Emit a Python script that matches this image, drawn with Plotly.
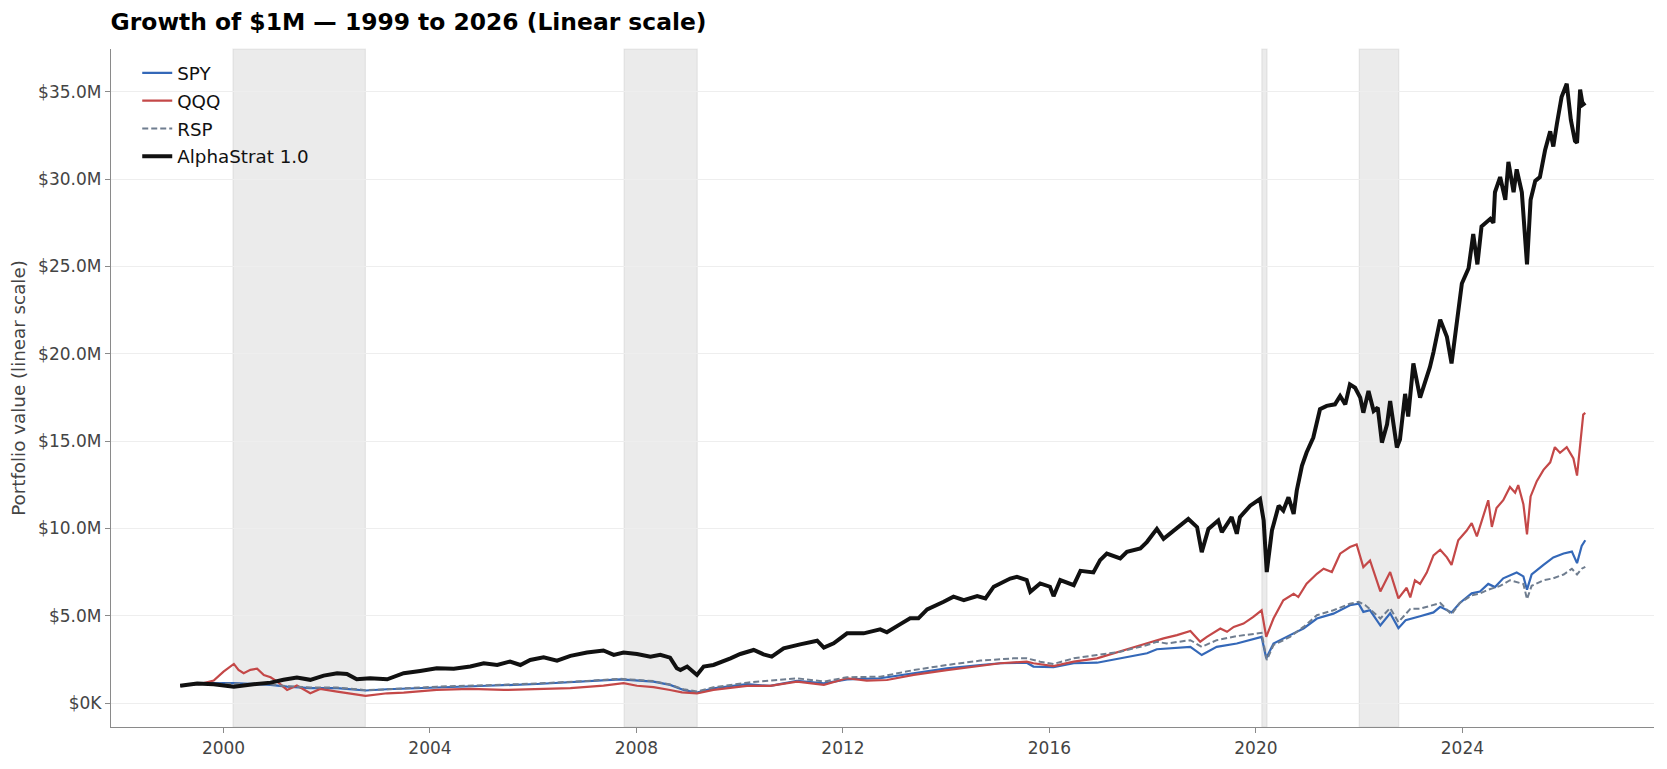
import pandas as pd
import plotly.graph_objects as go

# ---------------- data (values in $ millions, time in decimal years) ----------------
spy_t = [1999.16, 1999.62, 2000.20, 2000.58, 2000.91, 2001.23, 2001.68, 2002.20, 2002.75, 2003.17,
         2004.13, 2005.10, 2006.07, 2007.04, 2007.69, 2008.33, 2008.65, 2008.91, 2009.17, 2009.49,
         2010.14, 2010.59, 2011.11, 2011.63, 2012.08, 2012.72, 2013.37, 2014.01, 2014.66, 2015.05,
         2015.56, 2015.69, 2016.08, 2016.47, 2016.92, 2017.37, 2017.89, 2018.08, 2018.27, 2018.73,
         2018.95, 2019.24, 2019.63, 2019.89, 2020.11, 2020.20, 2020.34, 2020.66, 2020.92, 2021.18,
         2021.50, 2021.82, 2021.99, 2022.08, 2022.21, 2022.41, 2022.60, 2022.76, 2022.90, 2023.18,
         2023.44, 2023.57, 2023.79, 2023.95, 2024.18, 2024.34, 2024.50, 2024.63, 2024.79, 2025.05,
         2025.18, 2025.25, 2025.34, 2025.57, 2025.76, 2025.96, 2026.12, 2026.22, 2026.31, 2026.38]
spy_v = [1.00, 1.15, 1.15, 1.10, 1.05, 0.95, 0.86, 0.86, 0.73, 0.80,
         0.92, 1.00, 1.10, 1.24, 1.37, 1.24, 1.05, 0.76, 0.61, 0.86,
         1.09, 0.99, 1.28, 1.14, 1.37, 1.43, 1.71, 2.00, 2.19, 2.29,
         2.32, 2.10, 2.06, 2.29, 2.32, 2.57, 2.86, 3.09, 3.14, 3.23,
         2.76, 3.23, 3.42, 3.61, 3.80, 2.57, 3.42, 3.90, 4.28, 4.85,
         5.13, 5.61, 5.70, 5.23, 5.32, 4.45, 5.15, 4.30, 4.75, 4.98,
         5.20, 5.52, 5.20, 5.74, 6.29, 6.39, 6.83, 6.65, 7.15, 7.48,
         7.26, 6.50, 7.37, 7.92, 8.35, 8.57, 8.68, 8.02, 9.00, 9.33]

qqq_t = [1999.16, 1999.62, 1999.81, 2000.00, 2000.20, 2000.29, 2000.39, 2000.52, 2000.65, 2000.78,
         2000.91, 2001.04, 2001.23, 2001.42, 2001.68, 2001.87, 2002.20, 2002.52, 2002.75, 2003.17,
         2003.49, 2004.13, 2004.78, 2005.43, 2006.07, 2006.72, 2007.36, 2007.75, 2008.01, 2008.33,
         2008.65, 2008.88, 2009.17, 2009.49, 2010.14, 2010.59, 2011.11, 2011.63, 2012.08, 2012.46,
         2012.85, 2013.37, 2014.01, 2014.66, 2015.05, 2015.56, 2015.69, 2016.08, 2016.47, 2016.92,
         2017.37, 2017.89, 2018.21, 2018.47, 2018.73, 2018.92, 2019.05, 2019.31, 2019.44, 2019.57,
         2019.76, 2019.95, 2020.11, 2020.20, 2020.34, 2020.53, 2020.73, 2020.82, 2020.98, 2021.18,
         2021.31, 2021.47, 2021.63, 2021.82, 2021.95, 2022.08, 2022.21, 2022.41, 2022.60, 2022.76,
         2022.92, 2022.99, 2023.08, 2023.18, 2023.31, 2023.44, 2023.57, 2023.70, 2023.79, 2023.92,
         2024.08, 2024.18, 2024.28, 2024.41, 2024.50, 2024.57, 2024.66, 2024.79, 2024.92, 2025.02,
         2025.08, 2025.18, 2025.25, 2025.32, 2025.44, 2025.57, 2025.70, 2025.79, 2025.89, 2026.02,
         2026.15, 2026.22, 2026.28, 2026.34, 2026.38]
qqq_v = [1.00, 1.15, 1.30, 1.81, 2.25, 1.91, 1.72, 1.91, 1.98, 1.62,
         1.49, 1.24, 0.76, 1.01, 0.57, 0.82, 0.67, 0.52, 0.42, 0.57,
         0.61, 0.76, 0.82, 0.76, 0.82, 0.86, 1.01, 1.15, 1.00, 0.92,
         0.76, 0.62, 0.57, 0.76, 0.99, 0.99, 1.24, 1.05, 1.43, 1.30,
         1.33, 1.62, 1.90, 2.13, 2.29, 2.38, 2.29, 2.13, 2.38, 2.57,
         2.95, 3.43, 3.71, 3.90, 4.14, 3.52, 3.80, 4.28, 4.09, 4.37,
         4.56, 4.94, 5.32, 3.80, 4.85, 5.89, 6.27, 6.08, 6.84, 7.41,
         7.70, 7.51, 8.56, 8.94, 9.09, 7.79, 8.17, 6.40, 7.51, 6.00,
         6.61, 6.06, 7.04, 6.83, 7.48, 8.46, 8.79, 8.35, 7.92, 9.33,
         9.87, 10.31, 9.55, 10.75, 11.62, 10.09, 11.18, 11.62, 12.38, 12.05,
         12.49, 11.40, 9.66, 11.84, 12.71, 13.36, 13.79, 14.66, 14.34, 14.66,
         14.01, 13.03, 14.88, 16.52, 16.62]

rsp_t = [1999.16, 1999.62, 2000.20, 2000.58, 2000.91, 2001.23, 2001.68, 2002.20, 2002.75, 2003.17,
         2004.13, 2005.10, 2006.07, 2007.04, 2007.69, 2008.33, 2008.65, 2008.91, 2009.17, 2009.49,
         2010.14, 2011.11, 2011.63, 2012.08, 2012.72, 2013.37, 2014.01, 2014.66, 2015.30, 2015.56,
         2015.82, 2016.08, 2016.47, 2016.92, 2017.37, 2017.89, 2018.08, 2018.27, 2018.73, 2018.95,
         2019.24, 2019.63, 2020.11, 2020.21, 2020.34, 2020.66, 2020.92, 2021.18, 2021.50, 2021.82,
         2021.99, 2022.12, 2022.41, 2022.60, 2022.76, 2022.90, 2022.99, 2023.18, 2023.44, 2023.57,
         2023.79, 2023.95, 2024.18, 2024.34, 2024.50, 2024.73, 2024.92, 2025.18, 2025.25, 2025.34,
         2025.57, 2025.76, 2025.96, 2026.12, 2026.22, 2026.31, 2026.38]
rsp_v = [1.00, 1.12, 1.12, 1.10, 1.07, 0.98, 0.90, 0.90, 0.75, 0.80,
         0.95, 1.03, 1.13, 1.28, 1.40, 1.27, 1.07, 0.80, 0.67, 0.91,
         1.18, 1.43, 1.24, 1.49, 1.52, 1.90, 2.19, 2.44, 2.57, 2.57,
         2.38, 2.25, 2.57, 2.76, 2.95, 3.33, 3.52, 3.42, 3.61, 3.23,
         3.61, 3.84, 4.03, 2.47, 3.33, 3.80, 4.37, 5.04, 5.32, 5.70,
         5.80, 5.61, 4.85, 5.45, 4.65, 5.10, 5.40, 5.41, 5.63, 5.74,
         5.09, 5.74, 6.17, 6.28, 6.50, 6.72, 7.04, 6.83, 5.96, 6.72,
         7.04, 7.15, 7.37, 7.70, 7.37, 7.70, 7.81]

alpha_t = [1999.16, 1999.49, 1999.81, 2000.20, 2000.58, 2000.91, 2001.16, 2001.42, 2001.68, 2001.94,
           2002.20, 2002.39, 2002.58, 2002.84, 2003.17, 2003.49, 2003.81, 2004.13, 2004.46, 2004.78,
           2005.04, 2005.30, 2005.55, 2005.75, 2005.94, 2006.20, 2006.46, 2006.72, 2007.04, 2007.36,
           2007.56, 2007.75, 2008.01, 2008.27, 2008.46, 2008.65, 2008.78, 2008.85, 2008.98, 2009.17,
           2009.30, 2009.49, 2009.82, 2010.01, 2010.27, 2010.46, 2010.62, 2010.85, 2011.17, 2011.50,
           2011.63, 2011.82, 2012.08, 2012.40, 2012.72, 2012.85, 2013.11, 2013.30, 2013.46, 2013.63,
           2013.95, 2014.14, 2014.34, 2014.60, 2014.76, 2014.92, 2015.24, 2015.37, 2015.56, 2015.63,
           2015.82, 2016.01, 2016.08, 2016.21, 2016.47, 2016.60, 2016.85, 2016.98, 2017.11, 2017.37,
           2017.50, 2017.76, 2017.89, 2018.08, 2018.21, 2018.40, 2018.69, 2018.86, 2018.95, 2019.08,
           2019.27, 2019.34, 2019.53, 2019.63, 2019.69, 2019.89, 2020.08, 2020.15, 2020.21, 2020.31,
           2020.44, 2020.53, 2020.63, 2020.73, 2020.79, 2020.89, 2020.98, 2021.11, 2021.24, 2021.37,
           2021.53, 2021.63, 2021.73, 2021.82, 2021.92, 2022.02, 2022.08, 2022.18, 2022.28, 2022.36,
           2022.44, 2022.54, 2022.60, 2022.73, 2022.79, 2022.89, 2022.95, 2023.05, 2023.18, 2023.37,
           2023.44, 2023.57, 2023.70, 2023.79, 2023.92, 2023.99, 2024.12, 2024.21, 2024.29, 2024.37,
           2024.54, 2024.60, 2024.63, 2024.73, 2024.83, 2024.89, 2024.99, 2025.05, 2025.15, 2025.25,
           2025.32, 2025.41, 2025.50, 2025.60, 2025.70, 2025.76, 2025.83, 2025.92, 2026.02, 2026.10,
           2026.18, 2026.22, 2026.28, 2026.33, 2026.38]
alpha_v = [1.00, 1.13, 1.09, 0.95, 1.09, 1.18, 1.34, 1.47, 1.34, 1.58,
           1.72, 1.68, 1.37, 1.43, 1.37, 1.72, 1.85, 2.00, 1.97, 2.10,
           2.29, 2.19, 2.39, 2.19, 2.48, 2.63, 2.44, 2.71, 2.90, 3.02,
           2.77, 2.90, 2.82, 2.67, 2.77, 2.61, 2.00, 1.90, 2.10, 1.62,
           2.10, 2.19, 2.57, 2.82, 3.05, 2.80, 2.67, 3.14, 3.37, 3.58,
           3.18, 3.43, 4.00, 4.00, 4.23, 4.06, 4.53, 4.86, 4.86, 5.37,
           5.81, 6.10, 5.90, 6.13, 6.00, 6.67, 7.14, 7.24, 7.05, 6.38,
           6.86, 6.67, 6.13, 7.05, 6.76, 7.58, 7.49, 8.19, 8.57, 8.29,
           8.67, 8.86, 9.24, 9.98, 9.41, 9.89, 10.55, 10.08, 8.65, 9.98,
           10.46, 9.79, 10.65, 9.70, 10.65, 11.31, 11.69, 10.46, 7.51, 9.89,
           11.31, 11.03, 11.79, 10.84, 12.17, 13.59, 14.35, 15.21, 16.83, 17.02,
           17.11, 17.59, 17.11, 18.25, 18.06, 17.49, 16.63, 17.87, 16.73, 16.92,
           14.92, 15.97, 17.30, 14.64, 15.10, 17.71, 16.41, 19.45, 17.50, 19.24,
           20.10, 21.96, 20.98, 19.45, 22.29, 24.03, 24.90, 26.86, 25.12, 27.29,
           27.73, 27.50, 29.25, 30.12, 28.82, 30.99, 29.25, 30.56, 29.25, 25.12,
           28.82, 29.90, 30.12, 31.65, 32.74, 31.87, 33.17, 34.70, 35.46, 33.39,
           32.19, 32.08, 35.13, 34.26, 34.37]

series_names = ["SPY", "QQQ", "RSP", "AlphaStrat 1.0"]

# shaded market-stress periods
shade_start = ["2000-03-08", "2007-10-05", "2020-02-12", "2022-01-01"]
shade_end = ["2002-10-01", "2009-03-06", "2020-03-20", "2022-10-08"]

y_tick_vals = [0, 5, 10, 15, 20, 25, 30, 35]
y_tick_text = ["$0K", "$5.0M", "$10.0M", "$15.0M", "$20.0M", "$25.0M", "$30.0M", "$35.0M"]
x_tick_years = [2000, 2004, 2008, 2012, 2016, 2020, 2024]


def dec_to_date(y):
    year = int(y)
    frac = y - year
    start = pd.Timestamp(year=year, month=1, day=1)
    n = (pd.Timestamp(year=year + 1, month=1, day=1) - start).days
    return start + pd.Timedelta(days=frac * n)


def dates(ts):
    return [dec_to_date(t) for t in ts]


FONT = "DejaVu Sans"
fig = go.Figure()

fig.add_trace(go.Scatter(x=dates(spy_t), y=spy_v, mode="lines", name=series_names[0],
                         legendgroup="g0",
                         line=dict(color="#3468b8", width=2.2)))
fig.add_trace(go.Scatter(x=dates(qqq_t), y=qqq_v, mode="lines", name=series_names[1],
                         legendgroup="g1",
                         line=dict(color="#c44848", width=2.2)))
fig.add_trace(go.Scatter(x=dates(rsp_t), y=rsp_v, mode="lines", name=series_names[2],
                         legendgroup="g2",
                         line=dict(color="#6f7d8f", width=2.0, dash="6px,3px")))
fig.add_trace(go.Scatter(x=dates(alpha_t), y=alpha_v, mode="lines", name=series_names[3],
                         legendgroup="g3",
                         line=dict(color="#111111", width=4.0)))

for s, e in zip(shade_start, shade_end):
    fig.add_shape(type="rect", xref="x", yref="paper", x0=s, x1=e, y0=0, y1=1,
                  fillcolor="rgba(128,128,128,0.16)",
                  line=dict(color="rgba(128,128,128,0.14)", width=1.2),
                  layer="between")

fig.update_layout(
    width=1667, height=769, autosize=False,
    margin=dict(l=111, r=13, t=49, b=42),
    plot_bgcolor="white", paper_bgcolor="white",
    font=dict(family=FONT, size=17, color="#444444"),
    title=dict(text="Growth of $1M — 1999 to 2026 (Linear scale)",
               x=110.6 / 1667, xref="container", xanchor="left",
               y=1 - 21.5 / 769, yref="container", yanchor="middle",
               font=dict(family=FONT, size=23.4, color="#000000", weight="bold")),
    showlegend=True,
    legend=dict(x=0.017, y=0.992, xanchor="left", yanchor="top",
                bgcolor="rgba(0,0,0,0)", borderwidth=0, tracegroupgap=1,
                font=dict(family=FONT, size=18.3, color="#111111")),
    hovermode=False,
)

fig.update_xaxes(
    type="date",
    range=[dec_to_date(1997.819), dec_to_date(2027.712)],
    tickvals=[pd.Timestamp(year=y, month=1, day=1) for y in x_tick_years],
    ticktext=[str(y) for y in x_tick_years],
    showgrid=False, zeroline=False,
    showline=True, linecolor="#8a8a8a", linewidth=1.3,
    ticks="outside", ticklen=5, tickcolor="#8a8a8a", tickwidth=1.2,
    tickfont=dict(family=FONT, size=17, color="#444444"),
)
fig.update_yaxes(
    range=[-1.36, 37.45],
    tickvals=y_tick_vals, ticktext=y_tick_text,
    showgrid=True, gridcolor="#eeeeee", gridwidth=1,
    zeroline=False,
    showline=True, linecolor="#8a8a8a", linewidth=1.3,
    ticks="outside", ticklen=5, tickcolor="#8a8a8a", tickwidth=1.2,
    tickfont=dict(family=FONT, size=17, color="#444444"),
    title=dict(text="Portfolio value (linear scale)", standoff=7,
               font=dict(family=FONT, size=18.3, color="#444444")),
)

fig.write_html("out.html")
